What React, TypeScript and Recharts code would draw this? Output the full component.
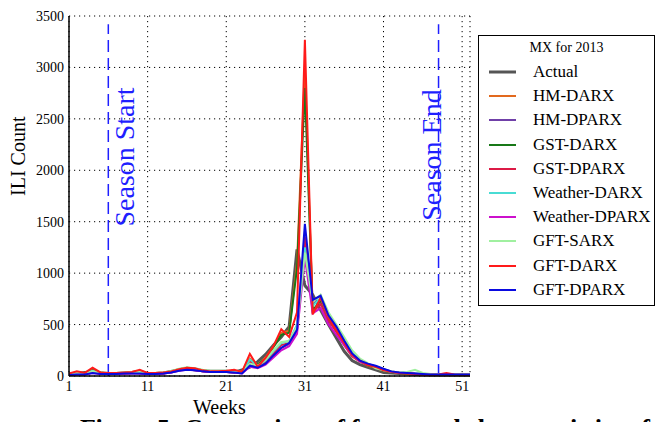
import React from 'react';
import { LineChart, Line, XAxis, YAxis, CartesianGrid, ReferenceLine, Legend } from 'recharts';

// week numbers 1..52
const weeks = [
  1, 2, 3, 4, 5, 6, 7, 8, 9, 10, 11, 12, 13, 14, 15, 16, 17, 18, 19, 20, 21, 22, 23, 24, 25, 26,
  27, 28, 29, 30, 31, 32, 33, 34, 35, 36, 37, 38, 39, 40, 41, 42, 43, 44, 45, 46, 47, 48, 49, 50, 51, 52,
];

const actual = [20, 25, 35, 40, 30, 25, 25, 30, 35, 30, 25, 25, 30, 45, 60, 70, 60, 50, 45, 45, 45, 35, 60, 85, 140, 210, 300, 380, 480, 1230, 880, 790, 640, 500, 370, 240, 150, 110, 85, 60, 35, 30, 25, 20, 15, 12, 10, 10, 10, 10, 10, 10];
const hmDarx = [20, 35, 30, 60, 35, 25, 25, 30, 40, 50, 30, 30, 35, 45, 65, 80, 70, 55, 45, 45, 45, 50, 45, 170, 110, 180, 290, 420, 440, 1100, 2980, 620, 740, 560, 430, 300, 190, 140, 100, 80, 50, 40, 30, 25, 20, 15, 12, 12, 20, 12, 12, 12];
const hmDparx = [15, 20, 20, 35, 25, 20, 20, 25, 30, 30, 20, 20, 25, 35, 55, 65, 55, 45, 40, 40, 40, 35, 30, 110, 85, 130, 200, 270, 310, 440, 1300, 700, 750, 570, 460, 340, 220, 150, 115, 95, 65, 45, 35, 30, 25, 20, 15, 15, 15, 15, 15, 15];
const gstDarx = [20, 30, 30, 55, 35, 25, 25, 30, 40, 45, 25, 25, 30, 45, 65, 80, 70, 55, 45, 45, 45, 50, 40, 150, 110, 170, 280, 400, 420, 1050, 2800, 640, 730, 560, 440, 310, 200, 145, 105, 85, 50, 38, 30, 25, 20, 15, 12, 12, 18, 12, 12, 12];
const gstDparx = [15, 25, 20, 45, 25, 20, 20, 25, 30, 35, 20, 20, 25, 40, 60, 70, 60, 45, 40, 40, 40, 40, 30, 140, 90, 140, 220, 300, 320, 480, 1350, 620, 700, 540, 430, 320, 200, 145, 110, 90, 55, 42, 32, 28, 22, 18, 14, 14, 20, 14, 14, 14];
const weatherDarx = [20, 30, 25, 50, 30, 25, 25, 30, 35, 40, 25, 25, 30, 45, 60, 75, 65, 50, 45, 45, 45, 45, 35, 160, 100, 150, 240, 320, 340, 500, 1250, 680, 760, 580, 460, 340, 220, 150, 115, 90, 55, 42, 32, 28, 24, 18, 14, 14, 16, 14, 14, 14];
const weatherDparx = [10, 15, 15, 30, 20, 20, 20, 25, 25, 25, 20, 20, 25, 35, 50, 60, 55, 45, 40, 40, 40, 35, 25, 90, 75, 110, 180, 250, 290, 410, 1150, 610, 660, 500, 400, 300, 200, 140, 110, 90, 60, 42, 32, 28, 22, 18, 14, 14, 14, 14, 14, 14];
const gftSarx = [25, 35, 30, 45, 35, 30, 30, 35, 40, 40, 30, 30, 35, 50, 70, 85, 75, 60, 50, 50, 50, 45, 40, 120, 100, 160, 250, 330, 340, 480, 1200, 720, 790, 620, 500, 380, 250, 170, 125, 75, 55, 45, 35, 40, 60, 30, 20, 18, 18, 18, 18, 18];
const gftDarx = [25, 45, 30, 80, 35, 30, 30, 35, 40, 60, 30, 30, 35, 45, 65, 80, 75, 55, 45, 45, 50, 60, 40, 215, 90, 175, 290, 455, 380, 620, 3270, 600, 760, 575, 446, 320, 205, 150, 108, 88, 55, 40, 30, 25, 20, 15, 12, 15, 30, 15, 12, 12];
const gftDparx = [10, 15, 15, 30, 20, 20, 20, 25, 25, 25, 20, 20, 25, 35, 50, 60, 55, 45, 40, 40, 40, 35, 25, 100, 80, 120, 200, 275, 320, 450, 1480, 740, 780, 590, 480, 345, 220, 150, 120, 100, 70, 45, 35, 30, 25, 20, 15, 15, 15, 15, 15, 15];

const xTicks = [1, 11, 21, 31, 41, 51];
const yTicks = [0, 500, 1000, 1500, 2000, 2500, 3000, 3500];

const seasonStart = 6;
const seasonEnd = 48;

const series = [
  { key: 'actual', name: 'Actual', color: '#555555', width: 3, values: actual },
  { key: 'hmDarx', name: 'HM-DARX', color: '#e2691e', width: 2, values: hmDarx },
  { key: 'hmDparx', name: 'HM-DPARX', color: '#7040a8', width: 2, values: hmDparx },
  { key: 'gstDarx', name: 'GST-DARX', color: '#187818', width: 2, values: gstDarx },
  { key: 'gstDparx', name: 'GST-DPARX', color: '#dc1a46', width: 2, values: gstDparx },
  { key: 'weatherDarx', name: 'Weather-DARX', color: '#48dcd4', width: 2, values: weatherDarx },
  { key: 'weatherDparx', name: 'Weather-DPARX', color: '#cc10cc', width: 2, values: weatherDparx },
  { key: 'gftSarx', name: 'GFT-SARX', color: '#a0f0a0', width: 2, values: gftSarx },
  { key: 'gftDarx', name: 'GFT-DARX', color: '#ff1a1a', width: 2, values: gftDarx },
  { key: 'gftDparx', name: 'GFT-DPARX', color: '#0a0ae0', width: 2, values: gftDparx },
];

const data = weeks.map((week, i) => {
  const row: any = { week };
  series.forEach((s) => (row[s.key] = s.values[i]));
  return row;
});

const FONT = '"Liberation Serif", "DejaVu Serif", serif';
const BLUE = '#1f1fff';

const LegendBox = () => (
  <div
    style={{
      position: 'relative',
      width: 177,
      height: 271,
      border: '1.5px solid #000',
      boxSizing: 'border-box',
      background: '#fff',
      fontFamily: FONT,
      color: '#000',
    }}
  >
    <div style={{ position: 'absolute', top: 4, left: 0, width: '100%', textAlign: 'center', fontSize: 14 }}>
      MX for 2013
    </div>
    {series.map((s, i) => (
      <div key={s.key} style={{ position: 'absolute', left: 0, top: Math.round(25 + i * 24.2), height: 22, width: '100%' }}>
        <svg width={40} height={22} style={{ position: 'absolute', left: 0, top: 0 }}>
          <line x1={10} x2={37} y1={11} y2={11} stroke={s.color} strokeWidth={s.width} />
        </svg>
        <div style={{ position: 'absolute', left: 54, top: 0, fontSize: 17, lineHeight: '22px', whiteSpace: 'nowrap' }}>
          {s.name}
        </div>
      </div>
    ))}
  </div>
);

const seasonLabel = (text: string, dx: number, cy: number) => (props: any) => {
  const vb = props.viewBox || {};
  const x = (vb.x ?? vb.x1 ?? 0) + dx;
  return (
    <text
      x={x}
      y={cy}
      transform={`rotate(-90 ${x} ${cy})`}
      textAnchor="middle"
      fontSize={28}
      fontFamily={FONT}
      fill={BLUE}
    >
      {text}
    </text>
  );
};

export default function App() {
  return (
    <div
      style={{
        position: 'absolute',
        left: 0,
        top: 0,
        width: 658,
        height: 422,
        overflow: 'hidden',
        background: '#fff',
        fontFamily: FONT,
      }}
    >
      <style>{`.recharts-wrapper text, .recharts-text { font-family: "Liberation Serif", "DejaVu Serif", serif !important; }`}</style>
      <LineChart width={658} height={422} data={data} margin={{ top: 16, right: 188, left: 9, bottom: 0 }}>
        <CartesianGrid stroke="#000" strokeDasharray="1.2 3.8" strokeWidth={1} />
        <XAxis
          dataKey="week"
          type="number"
          domain={[1, 52]}
          ticks={xTicks}
          allowDataOverflow
          height={46}
          tickLine={false}
          tickSize={0}
          tickMargin={5}
          axisLine={{ stroke: '#000', strokeWidth: 1.5 }}
          tick={{ fontSize: 14, fill: '#000' }}
          label={{ value: 'Weeks', position: 'insideBottom', offset: 8, dx: -50, fontSize: 20, fill: '#000' }}
        />
        <XAxis
          xAxisId="top"
          orientation="top"
          dataKey="week"
          type="number"
          domain={[1, 52]}
          height={0}
          tick={false}
          tickLine={false}
          axisLine={{ stroke: '#000', strokeWidth: 1.5 }}
        />
        <YAxis
          domain={[0, 3500]}
          ticks={yTicks}
          width={60}
          tickLine={false}
          tickSize={0}
          tickMargin={5}
          axisLine={{ stroke: '#000', strokeWidth: 1.5 }}
          tick={{ fontSize: 14, fill: '#000' }}
          label={{ value: 'ILI Count', angle: -90, position: 'insideLeft', offset: 9, fontSize: 20, fill: '#000' }}
        />
        <YAxis
          yAxisId="right"
          orientation="right"
          domain={[0, 3500]}
          width={0}
          tick={false}
          tickLine={false}
          axisLine={{ stroke: '#000', strokeWidth: 1.5 }}
        />
        <ReferenceLine
          segment={[{ x: seasonStart, y: 0 }, { x: seasonStart, y: 3420 }]}
          stroke={BLUE}
          strokeWidth={1.5}
          strokeDasharray="12 6"
          label={seasonLabel('Season Start', 26, 157)}
        />
        <ReferenceLine
          segment={[{ x: seasonEnd, y: 0 }, { x: seasonEnd, y: 3420 }]}
          stroke={BLUE}
          strokeWidth={1.5}
          strokeDasharray="12 6"
          label={seasonLabel('Season End', 2, 155)}
        />
        {series.map((s) => (
          <Line
            key={s.key}
            dataKey={s.key}
            name={s.name}
            type="linear"
            stroke={s.color}
            strokeWidth={s.width}
            dot={false}
            activeDot={false}
            isAnimationActive={false}
          />
        ))}
        <Legend
          layout="vertical"
          align="center"
          verticalAlign="middle"
          wrapperStyle={{ position: 'absolute', left: 478, top: 35, width: 177, height: 271 }}
          content={() => <LegendBox />}
        />
      </LineChart>
      <svg width={658} height={422} style={{ position: 'absolute', left: 0, top: 0, pointerEvents: 'none' }}>
        <text x={80} y={437} fontSize={26} fontWeight="bold" fontFamily={FONT} fill="#000" textLength={570}>
          Figure 5: Comparison of forecasted characteristics of
        </text>
      </svg>
    </div>
  );
}
